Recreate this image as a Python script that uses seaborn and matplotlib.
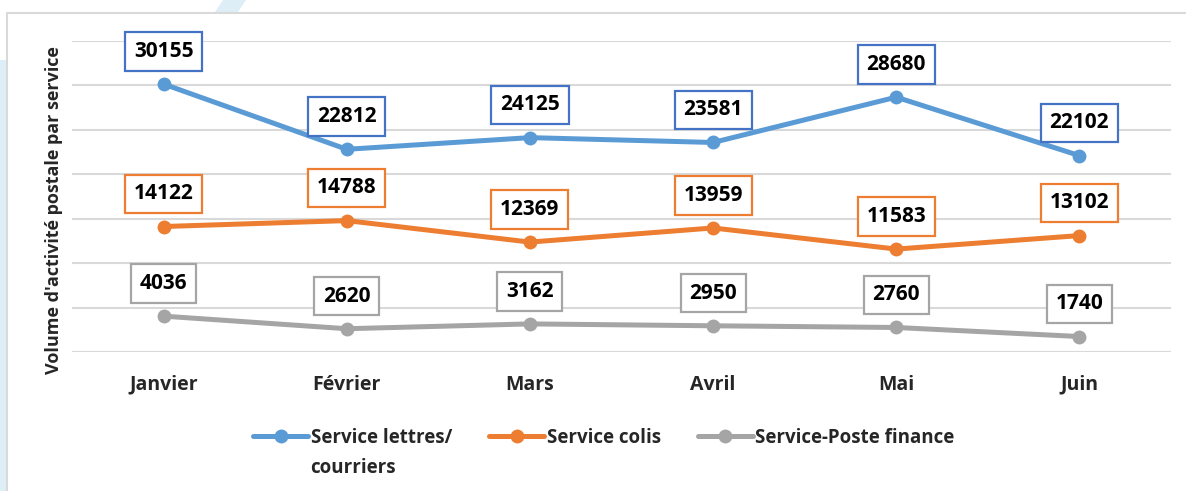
import numpy as np
import pandas as pd
import matplotlib.pyplot as plt
import seaborn as sns
from matplotlib.lines import Line2D
from matplotlib.patches import Polygon

# --- Data ---
mois = ["Janvier", "Février", "Mars", "Avril", "Mai", "Juin"]
lettres = [30155, 22812, 24125, 23581, 28680, 22102]
colis = [14122, 14788, 12369, 13959, 11583, 13102]
finance = [4036, 2620, 3162, 2950, 2760, 1740]
services = ["Service lettres/", "Service colis", "Service-Poste finance"]
y_ticks = [0, 5000, 10000, 15000, 20000, 25000, 30000, 35000]

line_colors = ["#5B9BD5", "#ED7D31", "#A5A5A5"]
box_colors = ["#4472C4", "#ED7D31", "#A5A5A5"]

# long format for seaborn
df = pd.DataFrame({
    "Mois": mois * 3,
    "Volume": lettres + colis + finance,
    "Service": [s for s in services for _ in mois],
})

sns.set_theme(style="white")
plt.rcParams["font.family"] = ["Open Sans", "DejaVu Sans"]
plt.rcParams["font.weight"] = "bold"

fig = plt.figure(figsize=(11.86, 4.91), dpi=100, facecolor="white")

# faint decorative shapes + chart frame behind the plot
W, H = 1186, 491
def px(x, y):
    return (x / W, 1 - y / H)

fig.add_artist(Polygon([px(215, 12), px(223, 0), px(246, 0), px(238, 12)],
                       closed=True, transform=fig.transFigure,
                       facecolor="#DDEEF7", edgecolor="none", zorder=0))
fig.add_artist(Polygon([px(0, 60), px(7, 60), px(7, 491), px(0, 491)],
                       closed=True, transform=fig.transFigure,
                       facecolor="#DDEEF7", edgecolor="none", zorder=0))
fig.add_artist(Line2D([7 / W, 7 / W, 1], [0, 1 - 13 / H, 1 - 13 / H],
                      transform=fig.transFigure, color="#D9D9D9", lw=1.5, zorder=0))

ax = fig.add_axes([72 / W, 1 - 352 / H, (1171 - 72) / W, (352 - 41) / H])
ax.set_facecolor("none")

sns.lineplot(data=df, x="Mois", y="Volume", hue="Service",
             palette=dict(zip(services, line_colors)),
             marker="o", markersize=10, markeredgewidth=0, linewidth=3.6,
             sort=False, legend=False, ax=ax, zorder=3)

ax.set_xlim(-0.5, len(mois) - 0.5)
ax.set_ylim(y_ticks[0], y_ticks[-1])
ax.set_yticks(y_ticks)
ax.set_yticklabels([])
ax.grid(axis="y", color="#D9D9D9", linewidth=1.5)
ax.grid(axis="x", visible=False)
for sp in ax.spines.values():
    sp.set_visible(False)
ax.tick_params(axis="both", length=0)
ax.tick_params(axis="x", pad=16.5, labelsize=14)
for lab in ax.get_xticklabels():
    lab.set_fontweight("bold")
ax.set_xlabel("")
ax.set_ylabel("Volume d'activité postale par service", fontsize=13,
              fontweight="bold")
ax.yaxis.set_label_coords(-0.008, 0.457)

# value labels in boxes
for vals, bc in zip([lettres, colis, finance], box_colors):
    for i, v in enumerate(vals):
        ax.annotate(str(v), (i, v), xytext=(0, 23.5), textcoords="offset points",
                    ha="center", va="center", fontsize=15, fontweight="bold",
                    color="black", zorder=5,
                    bbox=dict(boxstyle="square,pad=0.42", facecolor="white",
                              edgecolor=bc, linewidth=1.6))

# legend
handles = [Line2D([], [], color=c, lw=3.6, marker="o", markersize=10,
                  markeredgewidth=0) for c in line_colors]
leg = fig.legend(handles, services, loc="upper center", ncol=3,
                 bbox_to_anchor=(604 / W, 1 - 411 / H), frameon=False,
                 prop=dict(size=13.5, weight="bold"), handlelength=2.9,
                 handletextpad=0.15, columnspacing=2.0)

fig.canvas.draw()
bb = leg.get_texts()[0].get_window_extent()
x0, y0 = fig.transFigure.inverted().transform((bb.x0, bb.y0))
fig.text(x0, y0 - 0.02, "courriers", ha="left", va="top",
         fontsize=13.5, fontweight="bold")

fig.savefig("out.png", dpi=100, facecolor="white")
